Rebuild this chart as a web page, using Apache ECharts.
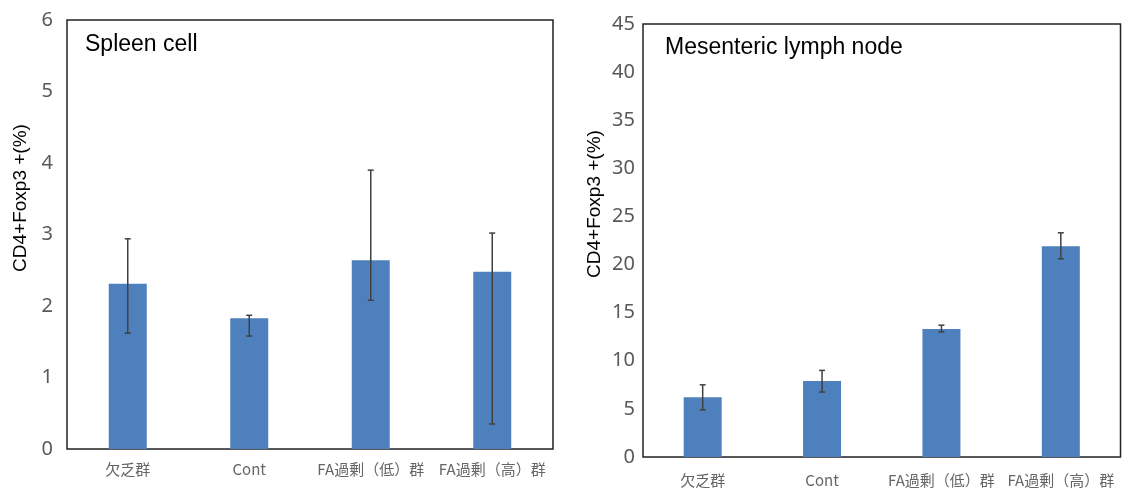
<!DOCTYPE html>
<html>
<head>
<meta charset="utf-8">
<script src="https://cdn.jsdelivr.net/npm/echarts@6/dist/echarts.min.js"></script>
<style>
  html, body { margin: 0; padding: 0; background: #fff; }
  #chart { width: 1122px; height: 490px; }
</style>
</head>
<body>
<div id="chart"></div>
<script>
// 群の名前
const categories = ["欠乏群", "Cont", "FA過剰（低）群", "FA過剰（高）群"];

// Spleen cell
const spleenMean = [2.31, 1.83, 2.64, 2.48];
const spleenLow = [1.62, 1.58, 2.08, 0.35];
const spleenHigh = [2.94, 1.87, 3.90, 3.02];

// Mesenteric lymph node
const mlnMean = [6.2, 7.9, 13.3, 21.9];
const mlnLow = [4.9, 6.75, 13.0, 20.6];
const mlnHigh = [7.5, 9.0, 13.7, 23.3];

const yName = "CD4+Foxp3 +(%)";
const barColor = "#4e80bd";
const labelGrey = "#595959";

// エラーバー用データ [x, low, high]
function errData(low, high) {
  return low.map((v, i) => [i, v, high[i]]);
}

function renderErr(params, api) {
  const x = api.value(0);
  const lo = api.coord([x, api.value(1)]);
  const hi = api.coord([x, api.value(2)]);
  const cap = 3;
  const style = { stroke: "#404040", lineWidth: 1.5 };
  return {
    type: "group",
    children: [
      { type: "line", shape: { x1: lo[0], y1: lo[1], x2: hi[0], y2: hi[1] }, style },
      { type: "line", shape: { x1: hi[0] - cap, y1: hi[1], x2: hi[0] + cap, y2: hi[1] }, style },
      { type: "line", shape: { x1: lo[0] - cap, y1: lo[1], x2: lo[0] + cap, y2: lo[1] }, style },
    ],
  };
}

function xAxisCfg(gridIndex, margin) {
  return {
    type: "category",
    gridIndex,
    data: categories,
    axisLine: { show: false },
    axisTick: { show: false },
    axisLabel: {
      color: "#666",
      fontSize: 15,
      fontFamily: "Noto Sans CJK JP",
      margin,
      interval: 0,
    },
  };
}

let myChart = echarts.init(document.getElementById("chart"));
const option = {
  animation: false,
  grid: [
    { left: 67, right: 569, top: 20, bottom: 41, show: true, borderColor: "#222", borderWidth: 1.5, backgroundColor: "transparent" },
    { left: 643, right: 1.5, top: 24, bottom: 33, show: true, borderColor: "#222", borderWidth: 1.5, backgroundColor: "transparent" },
  ],
  xAxis: [xAxisCfg(0, 13), xAxisCfg(1, 16)],
  yAxis: [
    {
      type: "value",
      gridIndex: 0,
      min: 0,
      max: 6,
      interval: 1,
      splitLine: { show: false },
      axisLine: { show: false },
      axisTick: { show: false },
      axisLabel: { color: labelGrey, fontSize: 20, fontFamily: "Noto Sans", margin: 14 },
    },
    {
      type: "value",
      gridIndex: 1,
      min: 0,
      max: 45,
      interval: 5,
      splitLine: { show: false },
      axisLine: { show: false },
      axisTick: { show: false },
      axisLabel: { color: labelGrey, fontSize: 20, fontFamily: "Noto Sans", margin: 8, padding: [8, 0, 0, 0] },
    },
  ],
  graphic: [
    {
      type: "text", x: 85, y: 45,
      style: { text: "Spleen cell", fontSize: 23, fontFamily: "Liberation Sans", fill: "#000", verticalAlign: "middle" },
    },
    {
      type: "text", x: 665, y: 48,
      style: { text: "Mesenteric lymph node", fontSize: 23, fontFamily: "Liberation Sans", fill: "#000", verticalAlign: "middle" },
    },
    {
      type: "text", x: 21, y: 198, rotation: Math.PI / 2,
      style: { text: yName, fontSize: 19, fontFamily: "Liberation Sans", fill: "#000", align: "center", verticalAlign: "middle" },
    },
    {
      type: "text", x: 595, y: 204, rotation: Math.PI / 2,
      style: { text: yName, fontSize: 19, fontFamily: "Liberation Sans", fill: "#000", align: "center", verticalAlign: "middle" },
    },
  ],
  series: [
    {
      type: "bar", xAxisIndex: 0, yAxisIndex: 0, data: spleenMean,
      barWidth: 38, itemStyle: { color: barColor },
    },
    {
      type: "custom", xAxisIndex: 0, yAxisIndex: 0, data: errData(spleenLow, spleenHigh),
      renderItem: renderErr, encode: { x: 0, y: [1, 2] }, z: 5,
    },
    {
      type: "bar", xAxisIndex: 1, yAxisIndex: 1, data: mlnMean,
      barWidth: 38, itemStyle: { color: barColor },
    },
    {
      type: "custom", xAxisIndex: 1, yAxisIndex: 1, data: errData(mlnLow, mlnHigh),
      renderItem: renderErr, encode: { x: 0, y: [1, 2] }, z: 5,
    },
  ],
};
myChart.setOption(option);
</script>
</body>
</html>
